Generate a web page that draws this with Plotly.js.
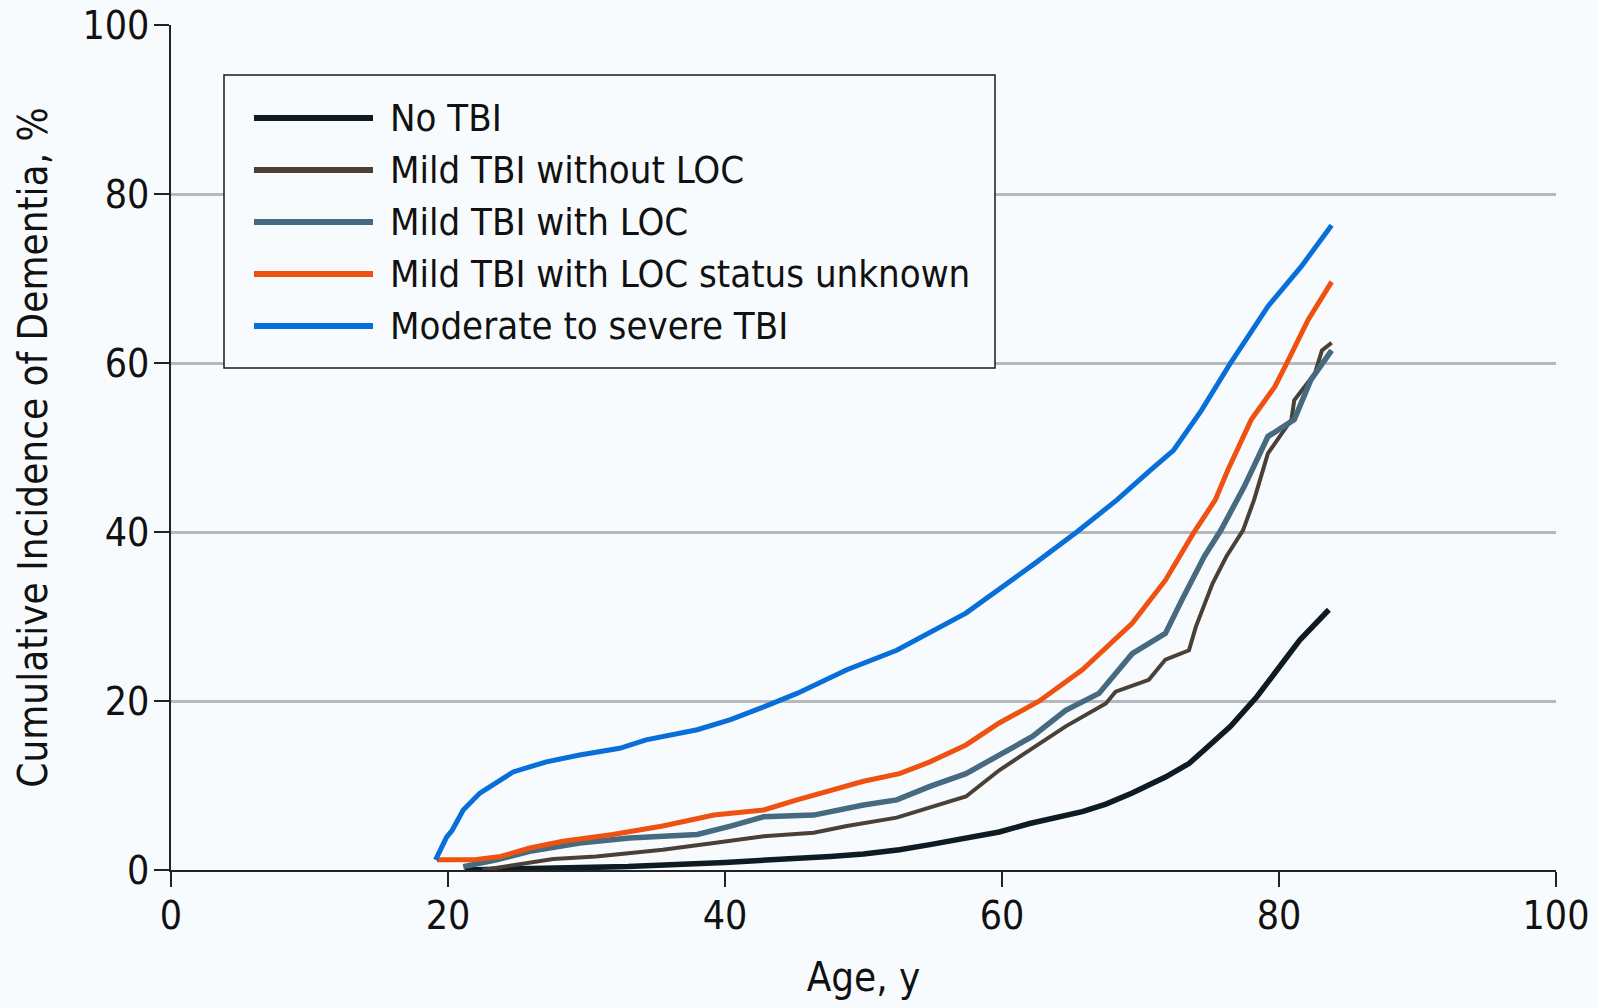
<!DOCTYPE html>
<html>
<head>
<meta charset="utf-8">
<script src="https://cdn.plot.ly/plotly-3.0.1.min.js"></script>
<style>
  html, body { margin: 0; padding: 0; background: #f8fbfd; }
  #chart { width: 1598px; height: 1008px; }
</style>
</head>
<body>
<div id="chart"></div>
<script>
// ---- Data ----
const seriesNames = [
  "No TBI",
  "Mild TBI without LOC",
  "Mild TBI with LOC",
  "Mild TBI with LOC status unknown",
  "Moderate to severe TBI"
];
const seriesColors = ["#0e1b23", "#4a4036", "#466b80", "#ee5110", "#086fd9"];
const seriesWidths = [5.5, 4, 5.5, 5, 5];

const ageNoTBI = [21.2, 27, 33, 40, 44, 47.6, 50, 52.6, 54.8, 57, 59.8, 62, 65.8, 67.5, 69.4, 71.8, 73.5, 74.6, 76.5, 78.4, 80.1, 81.5, 83.6];
const incNoTBI = [0, 0.15, 0.4, 0.9, 1.2, 1.6, 1.9, 2.4, 3.0, 3.6, 4.5, 5.5, 6.9, 7.8, 9.1, 11.0, 12.6, 14.2, 17.0, 20.5, 24.1, 27.2, 30.8];

const ageMildNoLOC = [22.5, 25.9, 27.6, 30.7, 35.5, 39.2, 42.8, 46.4, 48.8, 52.4, 54.8, 57.4, 59.8, 62.2, 64.6, 67.5, 68.2, 70.6, 71.8, 73.5, 74.0, 75.2, 76.2, 77.4, 78.2, 79.2, 80.9, 81.1, 82.6, 83.1, 83.8];
const incMildNoLOC = [0, 0.8, 1.3, 1.6, 2.4, 3.2, 4.0, 4.4, 5.2, 6.2, 7.4, 8.7, 11.8, 14.4, 17.0, 19.7, 21.1, 22.5, 24.9, 26.0, 28.8, 33.9, 37.1, 40.2, 43.8, 49.3, 53.3, 55.6, 58.8, 61.5, 62.4];

const ageMildLOC = [21.1, 23.5, 25.9, 29.5, 33.1, 38.0, 40.4, 42.8, 46.4, 50.0, 52.4, 54.8, 57.4, 59.8, 62.2, 64.6, 67.0, 69.4, 71.8, 73.0, 74.6, 75.8, 77.0, 77.5, 79.2, 81.1, 82.3, 83.8];
const incMildLOC = [0.4, 1.2, 2.2, 3.2, 3.8, 4.2, 5.2, 6.3, 6.5, 7.7, 8.3, 9.9, 11.4, 13.6, 15.8, 18.9, 20.9, 25.6, 28.0, 32.0, 37.1, 40.2, 43.8, 45.4, 51.3, 53.3, 58.0, 61.5];

const ageMildUnknown = [19.2, 21.8, 23.8, 25.9, 28.3, 31.9, 35.5, 39.2, 42.8, 45.2, 50.0, 52.6, 54.8, 57.4, 59.8, 62.7, 65.8, 69.4, 71.8, 73.8, 75.4, 76.3, 78.0, 79.7, 80.6, 82.1, 83.8];
const incMildUnknown = [1.2, 1.2, 1.6, 2.6, 3.4, 4.2, 5.2, 6.5, 7.1, 8.3, 10.5, 11.4, 12.8, 14.8, 17.4, 20.0, 23.7, 29.2, 34.3, 39.8, 43.8, 47.3, 53.3, 57.2, 60.1, 65.1, 69.6];

const ageModSevere = [19.1, 19.9, 20.3, 21.1, 22.3, 24.7, 27.1, 29.5, 32.4, 34.3, 38.0, 40.4, 42.8, 45.2, 48.8, 52.4, 57.4, 60.0, 62.3, 65.4, 68.3, 70.7, 72.4, 74.4, 76.5, 79.2, 81.6, 83.8];
const incModSevere = [1.2, 3.9, 4.7, 7.1, 9.1, 11.6, 12.8, 13.6, 14.4, 15.4, 16.6, 17.8, 19.3, 20.9, 23.7, 26.0, 30.4, 33.4, 36.2, 40.0, 43.8, 47.3, 49.7, 54.4, 60.0, 66.7, 71.4, 76.3];

const xTickVals = [0, 20, 40, 60, 80, 100];
const xTickText = ["0", "20", "40", "60", "80", "100"];
const yTickVals = [0, 20, 40, 60, 80, 100];
const yTickText = ["0", "20", "40", "60", "80", "100"];

const xTitle = "Age, y";
const yTitle = "Cumulative Incidence of Dementia, %";

// ---- Build chart ----
const FONT = "'DejaVu Sans Condensed', 'DejaVu Sans', sans-serif";
const W = 1598, H = 1008;
const M = { l: 171, r: 42, t: 25, b: 138 };
const plotW = W - M.l - M.r, plotH = H - M.t - M.b;
const px2x = p => (p - M.l) / plotW;
const px2y = p => (H - M.b - p) / plotH;

const xs = [ageNoTBI, ageMildNoLOC, ageMildLOC, ageMildUnknown, ageModSevere];
const ys = [incNoTBI, incMildNoLOC, incMildLOC, incMildUnknown, incModSevere];

const traces = seriesNames.map((name, i) => ({
  type: "scatter",
  mode: "lines",
  name: name,
  x: xs[i],
  y: ys[i],
  line: { color: seriesColors[i], width: seriesWidths[i], shape: "linear" },
  showlegend: false,
  hoverinfo: "name+x+y"
}));

// Custom legend (box, long line samples, text)
const legBox = { x0: 224, x1: 995, y0: 75, y1: 368 };
const legLineX0 = 254, legLineX1 = 373, legTextX = 388;
const legRowTop = 118, legRowStep = 52;

const shapes = [{
  type: "rect", xref: "paper", yref: "paper",
  x0: px2x(legBox.x0), x1: px2x(legBox.x1),
  y0: px2y(legBox.y1), y1: px2y(legBox.y0),
  line: { color: "#1a1a1a", width: 1.5 },
  fillcolor: "#f8fbfd", layer: "above"
}];
const annotations = [];
seriesNames.forEach((name, i) => {
  const yy = px2y(legRowTop + i * legRowStep);
  shapes.push({
    type: "line", xref: "paper", yref: "paper",
    x0: px2x(legLineX0), x1: px2x(legLineX1), y0: yy, y1: yy,
    line: { color: seriesColors[i], width: 6 }, layer: "above"
  });
  annotations.push({
    xref: "paper", yref: "paper", x: px2x(legTextX), y: yy,
    xanchor: "left", yanchor: "middle", showarrow: false,
    text: name, font: { family: FONT, size: 38, color: "#111111" }
  });
});

const layout = {
  width: W, height: H,
  margin: M,
  paper_bgcolor: "#f8fbfd",
  plot_bgcolor: "#f8fbfd",
  font: { family: FONT, size: 38, color: "#111111" },
  showlegend: false,
  xaxis: {
    range: [0, 100],
    tickvals: xTickVals, ticktext: xTickText,
    ticks: "outside", ticklen: 15, tickwidth: 1.5, tickcolor: "#222222",
    ticklabelstandoff: -5,
    showline: true, linecolor: "#222222", linewidth: 1.5,
    showgrid: false, zeroline: false,
    tickfont: { family: FONT, size: 39, color: "#111111" },
    title: { text: xTitle, font: { family: FONT, size: 40, color: "#111111" }, standoff: 26 },
    automargin: false, fixedrange: true
  },
  yaxis: {
    range: [0, 100],
    tickvals: yTickVals, ticktext: yTickText,
    ticks: "outside", ticklen: 15, tickwidth: 1.5, tickcolor: "#222222",
    ticklabelstandoff: -3,
    showline: true, linecolor: "#222222", linewidth: 1.5,
    showgrid: true, gridcolor: "#b6b9bc", gridwidth: 3,
    zeroline: false,
    tickfont: { family: FONT, size: 39, color: "#111111" },
    title: { text: yTitle, font: { family: FONT, size: 40, color: "#111111" }, standoff: 22 },
    automargin: false, fixedrange: true
  },
  shapes: shapes,
  annotations: annotations
};

Plotly.newPlot("chart", traces, layout, { displayModeBar: false, staticPlot: false });
</script>
</body>
</html>
